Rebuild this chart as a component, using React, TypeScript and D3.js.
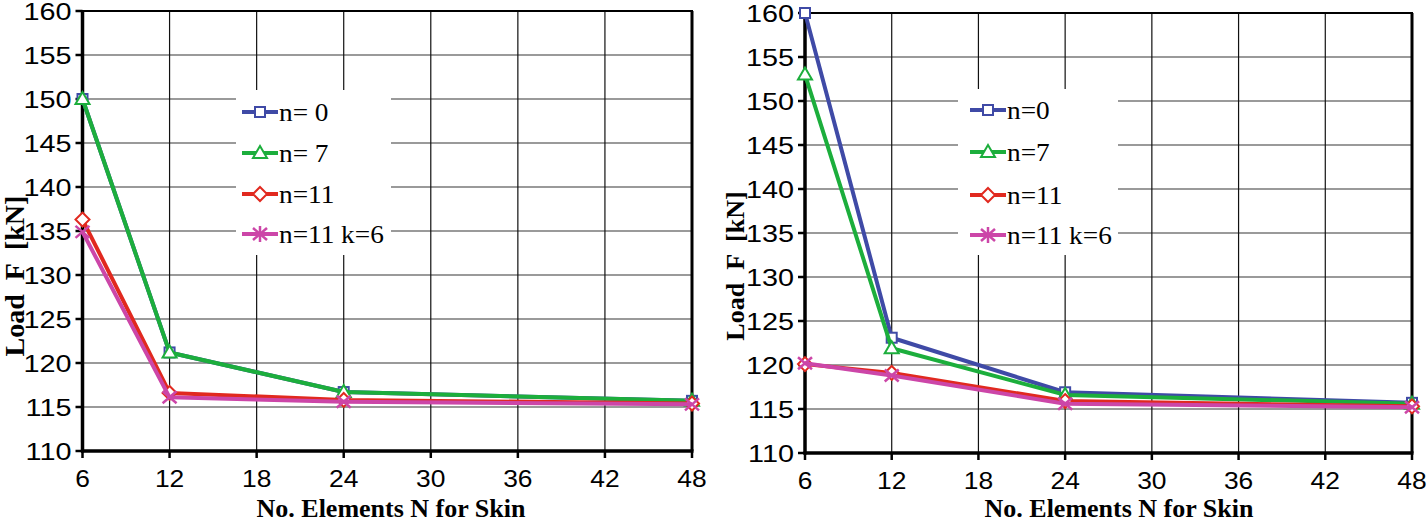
import React from "react";
import * as d3 from "d3";

const xTicks = [6, 12, 18, 24, 30, 36, 42, 48];
const yTicks = [110, 115, 120, 125, 130, 135, 140, 145, 150, 155, 160];
const xValues = [6, 12, 24, 48];

const leftLabels = ["n= 0", "n= 7", "n=11", "n=11 k=6"];
const rightLabels = ["n=0", "n=7", "n=11", "n=11 k=6"];
const colors = ["#3f4aa6", "#1cae3c", "#e1291f", "#cc46a8"];
const markers = ["square", "triangle", "diamond", "star"];

const leftN0 = [150.0, 121.2, 116.7, 115.7];
const leftN7 = [150.0, 121.2, 116.7, 115.7];
const leftN11 = [136.3, 116.6, 115.8, 115.4];
const leftN11k6 = [134.9, 116.1, 115.6, 115.3];

const rightN0 = [160.0, 123.1, 116.9, 115.7];
const rightN7 = [153.0, 121.9, 116.6, 115.6];
const rightN11 = [120.1, 119.1, 115.9, 115.3];
const rightN11k6 = [120.2, 118.8, 115.6, 115.2];

const leftSeries = [leftN0, leftN7, leftN11, leftN11k6];
const rightSeries = [rightN0, rightN7, rightN11, rightN11k6];

const SANS = "'Liberation Sans', Arial, sans-serif";
const SERIF = "'Liberation Serif', 'Times New Roman', serif";

function Marker({ type, x, y, color, legend }: { type: string; x: number; y: number; color: string; legend?: boolean }) {
  const sw = 2;
  if (type === "square") {
    return <rect x={x - 5} y={y - 5} width={10} height={10} fill="#fff" stroke={color} strokeWidth={sw} />;
  }
  if (type === "triangle") {
    return (
      <path d={`M${x},${y - 7} L${x + 7},${y + 5} L${x - 7},${y + 5} Z`} fill="#fff" stroke={color} strokeWidth={sw} />
    );
  }
  if (type === "diamond") {
    return (
      <path d={`M${x},${y - 7} L${x + 7},${y} L${x},${y + 7} L${x - 7},${y} Z`} fill="#fff" stroke={color} strokeWidth={sw} />
    );
  }
  return (
    <g stroke={color} strokeWidth={2.5}>
      <line x1={x - 7} y1={y - 6} x2={x + 7} y2={y + 6} />
      <line x1={x - 7} y1={y + 6} x2={x + 7} y2={y - 6} />
      {legend ? <line x1={x} y1={y - 8} x2={x} y2={y + 8} /> : null}
    </g>
  );
}

type PanelProps = {
  x0: number;
  x1: number;
  yTop: number;
  yBot: number;
  series: number[][];
  labels: string[];
  legend: { x: number; y: number; w: number; h: number; items: number[]; lineX: number };
  yTitleX: number;
  yTitleY: number;
  yTitleSize: number;
  xTitleX: number;
};

function Panel(p: PanelProps) {
  const x = d3.scaleLinear().domain([6, 48]).range([p.x0, p.x1]);
  const y = d3.scaleLinear().domain([110, 160]).range([p.yBot, p.yTop]);
  const line = d3
    .line<[number, number]>()
    .x((d) => x(d[0]))
    .y((d) => y(d[1]));
  const L = p.legend;
  return (
    <g>
      {yTicks.map((t) => (
        <line key={"hg" + t} x1={p.x0} x2={p.x1} y1={y(t)} y2={y(t)} stroke="#9a9a9a" strokeWidth={2} />
      ))}
      {xTicks.slice(1, -1).map((t) => (
        <line key={"vg" + t} x1={x(t)} x2={x(t)} y1={p.yTop} y2={p.yBot} stroke="#111" strokeWidth={1.2} />
      ))}
      <rect x={L.x} y={L.y} width={L.w} height={L.h} fill="#fff" />
      <rect x={p.x0} y={p.yTop} width={p.x1 - p.x0} height={p.yBot - p.yTop} fill="none" stroke="#000" strokeWidth={2} />
      <line x1={p.x0} x2={p.x0} y1={p.yTop} y2={p.yBot + 1.5} stroke="#000" strokeWidth={3.5} />
      <line x1={p.x0 - 1.5} x2={p.x1 + 1.5} y1={p.yBot} y2={p.yBot} stroke="#000" strokeWidth={3.5} />
      <line x1={p.x1} x2={p.x1} y1={p.yTop} y2={p.yBot} stroke="#000" strokeWidth={3} />
      {yTicks.map((t) => (
        <g key={"yt" + t}>
          <line x1={p.x0 - 7} x2={p.x0} y1={y(t)} y2={y(t)} stroke="#000" strokeWidth={2.5} />
          <text
            transform={`translate(${p.x0 - 11},${y(t) + 8.5}) scale(1.2,1)`}
            textAnchor="end"
            fontFamily={SANS}
            fontSize={24}
            fill="#000"
          >
            {t}
          </text>
        </g>
      ))}
      {xTicks.map((t) => (
        <g key={"xt" + t}>
          <line x1={x(t)} x2={x(t)} y1={p.yBot} y2={p.yBot + 7} stroke="#000" strokeWidth={2.5} />
          <text
            transform={`translate(${x(t)},${p.yBot + 36}) scale(1.1,1)`}
            textAnchor="middle"
            fontFamily={SANS}
            fontSize={24}
            fill="#000"
          >
            {t}
          </text>
        </g>
      ))}
      {p.series.map((s, i) => {
        const pts: [number, number][] = xValues.map((v, j) => [v, s[j]]);
        return (
          <g key={"s" + i}>
            <path d={line(pts) || ""} fill="none" stroke={colors[i]} strokeWidth={4} strokeLinejoin="round" />
            {pts.map((d, j) => (
              <Marker key={j} type={markers[i]} x={x(d[0])} y={y(d[1])} color={colors[i]} />
            ))}
          </g>
        );
      })}
      {p.labels.map((lab, i) => (
        <g key={"lg" + i}>
          <line x1={L.lineX} x2={L.lineX + 36} y1={L.items[i]} y2={L.items[i]} stroke={colors[i]} strokeWidth={4} />
          <Marker type={markers[i]} x={L.lineX + 18} y={L.items[i]} color={colors[i]} legend />
          <text
            transform={`translate(${L.lineX + 37},${L.items[i] + 9}) scale(1.05,1)`}
            fontFamily={SERIF}
            fontSize={26}
            fill="#000"
            style={{ whiteSpace: "pre" }}
          >
            {lab}
          </text>
        </g>
      ))}
      <text
        transform={`translate(${p.yTitleX},${p.yTitleY}) rotate(-90)`}
        textAnchor="middle"
        fontFamily={SERIF}
        fontWeight="bold"
        fontSize={p.yTitleSize}
        fill="#000"
        style={{ whiteSpace: "pre" }}
      >
        {"Load  F  [kN]"}
      </text>
      <text
        x={p.xTitleX}
        y={517}
        textAnchor="middle"
        fontFamily={SERIF}
        fontWeight="bold"
        fontSize={26}
        fill="#000"
      >
        No. Elements N for Skin
      </text>
    </g>
  );
}

export default function App() {
  return (
    <svg
      width={1427}
      height={524}
      viewBox="0 0 1427 524"
      style={{ position: "absolute", left: 0, top: 0, background: "#fff" }}
    >
      <rect width={1427} height={524} fill="#fff" />
      <Panel
        x0={82.5}
        x1={692}
        yTop={11}
        yBot={451}
        series={leftSeries}
        labels={leftLabels}
        legend={{ x: 236, y: 90, w: 155, h: 165, items: [112, 153, 194, 234], lineX: 242 }}
        yTitleX={24}
        yTitleY={276}
        yTitleSize={28}
        xTitleX={391}
      />
      <Panel
        x0={805}
        x1={1412}
        yTop={13}
        yBot={453}
        series={rightSeries}
        labels={rightLabels}
        legend={{ x: 958, y: 89, w: 160, h: 166, items: [110, 152, 195, 235], lineX: 970 }}
        yTitleX={744}
        yTitleY={266}
        yTitleSize={26}
        xTitleX={1119}
      />
    </svg>
  );
}
